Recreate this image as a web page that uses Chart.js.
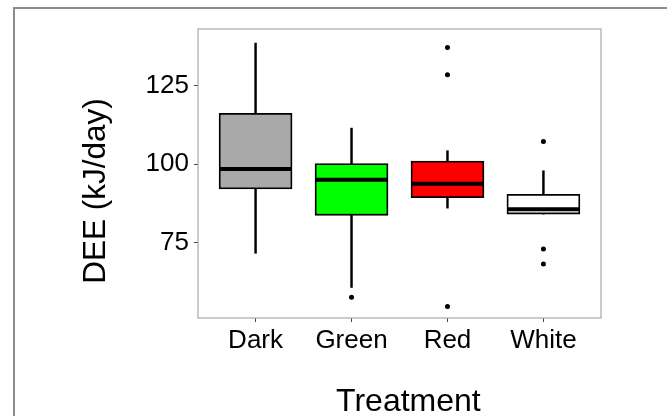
<!DOCTYPE html>
<html>
<head>
<meta charset="utf-8">
<script src="https://cdn.jsdelivr.net/npm/chart.js@4/dist/chart.umd.min.js"></script>
<style>
  html, body { margin: 0; padding: 0; background: #fff; overflow: hidden; }
  #wrap { position: relative; width: 667px; height: 416px; }
  #frame { position: absolute; left: 13px; top: 7px; width: 700px; height: 500px;
           border-left: 2px solid #8c8c8c; border-top: 2px solid #8c8c8c; pointer-events: none; }
  canvas { position: absolute; left: 0; top: 0; }
</style>
</head>
<body>
<div id="wrap">
  <canvas id="c" width="667" height="416"></canvas>
  <div id="frame"></div>
</div>
<script>
// ---- data ----
const categories   = ['Dark', 'Green', 'Red', 'White'];
const whiskerLow   = [71.6, 60.7, 86.0, 84.1];
const q1           = [92.1, 83.7, 89.3, 84.1];
const medians      = [98.5, 95.0, 93.8, 85.6];
const q3           = [116.2, 100.2, 101.0, 90.4];
const whiskerHigh  = [138.6, 111.5, 104.3, 97.9];
const outliers     = [[], [57.6], [137.2, 128.5, 54.6], [107.2, 73.0, 68.2]];
const yTicks       = [75, 100, 125];

// ---- styles ----
const boxColors = ['#A9A9A9', '#00FF00', '#FF0000', '#FFFFFF'];
const FONT = "'Liberation Sans', Arial, sans-serif";
const HALF = 0.375;

const whiskerData = categories.map((c, i) => ({ x: i + 1, y: [whiskerLow[i], whiskerHigh[i]] }));
const boxData     = categories.map((c, i) => ({ x: i + 1, y: [q1[i], q3[i]] }));
const medianData  = categories.flatMap((c, i) => [
  { x: i + 1 - HALF, y: medians[i] },
  { x: i + 1 + HALF, y: medians[i] },
  { x: i + 1.5, y: null }
]);
const outlierData = categories.flatMap((c, i) => outliers[i].map(v => ({ x: i + 1, y: v })));

const panelBorder = {
  id: 'panelBorder',
  afterDatasetsDraw(chart) {
    const { ctx, chartArea: a } = chart;
    ctx.save();
    ctx.strokeStyle = '#a8a8a8';
    ctx.lineWidth = 1.2;
    ctx.strokeRect(a.left, a.top, a.right - a.left, a.bottom - a.top);
    ctx.restore();
  }
};

new Chart(document.getElementById('c'), {
  type: 'bar',
  data: {
    datasets: [
      { type: 'line', data: outlierData, showLine: false, pointRadius: 2.5,
        pointBackgroundColor: '#000', pointBorderWidth: 0, order: 0 },
      { type: 'line', data: medianData, borderColor: '#000', borderWidth: 4,
        borderCapStyle: 'butt', pointRadius: 0, spanGaps: false, order: 1 },
      { type: 'bar', data: boxData, backgroundColor: boxColors, borderColor: '#000',
        borderWidth: 1.8, borderSkipped: false, barThickness: 73, grouped: false, order: 2 },
      { type: 'bar', data: whiskerData, backgroundColor: '#000', borderWidth: 0,
        barThickness: 1.8, grouped: false, order: 3 }
    ]
  },
  options: {
    responsive: false,
    animation: false,
    events: [],
    layout: { padding: { top: 29, right: 66, left: 0, bottom: 0 } },
    plugins: { legend: { display: false }, tooltip: { enabled: false } },
    scales: {
      x: {
        type: 'linear',
        offset: false,
        min: 0.4, max: 4.6,
        afterBuildTicks: s => { s.ticks = categories.map((c, i) => ({ value: i + 1 })); },
        afterFit: s => { s.height = 98; },
        ticks: {
          callback: v => categories[v - 1],
          color: '#000', font: { family: FONT, size: 26 }, padding: 3,
          autoSkip: false, maxRotation: 0
        },
        grid: { offset: false, drawOnChartArea: false, drawTicks: true, tickLength: 4, tickColor: '#444', tickWidth: 1 },
        border: { display: false },
        title: {
          display: true, text: '  Treatment', color: '#000',
          font: { family: FONT, size: 32, lineHeight: 0.875 }, padding: { top: 0, bottom: 0 }
        }
      },
      y: {
        type: 'linear',
        min: 50.97, max: 143.09,
        afterBuildTicks: s => { s.ticks = yTicks.map(v => ({ value: v })); },
        afterFit: s => { s.width = 198; },
        ticks: { color: '#000', font: { family: FONT, size: 26 }, padding: 5 },
        grid: { drawOnChartArea: false, drawTicks: true, tickLength: 4, tickColor: '#444', tickWidth: 1 },
        border: { display: false },
        title: {
          display: true, text: 'DEE (kJ/day)    ', color: '#000',
          font: { family: FONT, size: 31.5, lineHeight: 1.2 }, padding: { top: 77, bottom: 0 }
        }
      }
    }
  },
  plugins: [panelBorder]
});
</script>
</body>
</html>
